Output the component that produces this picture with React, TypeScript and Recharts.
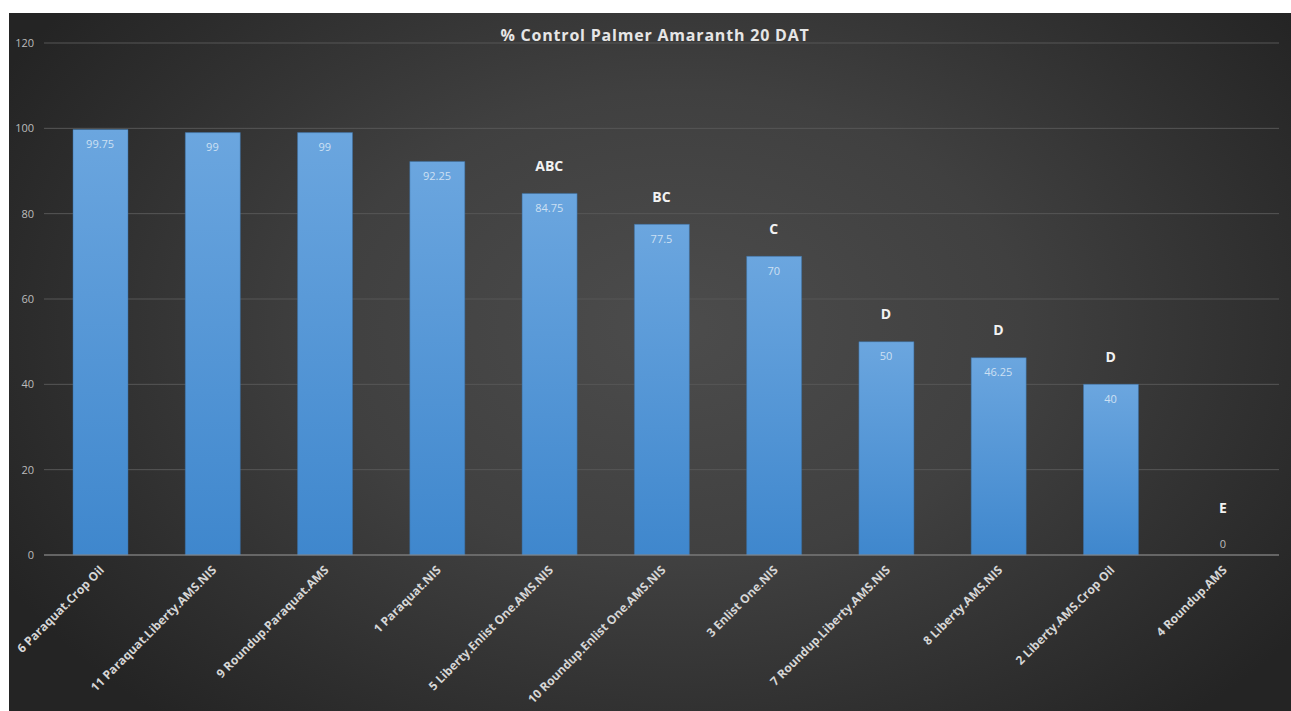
import React from "react";
import { ComposedChart, Bar, Line, XAxis, YAxis, CartesianGrid, LabelList } from "recharts";

const categories = [
  "6 Paraquat.Crop Oil",
  "11 Paraquat.Liberty.AMS.NIS",
  "9 Roundup.Paraquat.AMS",
  "1 Paraquat.NIS",
  "5 Liberty.Enlist One.AMS.NIS",
  "10 Roundup.Enlist One.AMS.NIS",
  "3 Enlist One.NIS",
  "7 Roundup.Liberty.AMS.NIS",
  "8 Liberty.AMS.NIS",
  "2 Liberty.AMS.Crop Oil",
  "4 Roundup.AMS",
];
const values = [99.75, 99, 99, 92.25, 84.75, 77.5, 70, 50, 46.25, 40, 0];
const letters = ["", "", "", "", "ABC", "BC", "C", "D", "D", "D", "E"];
const yTicks = [0, 20, 40, 60, 80, 100, 120];

const data = categories.map((name, i) => ({ name, value: values[i], letter: letters[i] }));

const FONT = "'Open Sans', 'Noto Sans', sans-serif";

const XTick = (props: any) => {
  const { x, y, payload } = props;
  return (
    <g transform={`translate(${x + 2},${y + 5})`}>
      <text
        x={0}
        y={0}
        dy={4}
        textAnchor="end"
        transform="rotate(-45)"
        fill="#d6d6d6"
        fontSize={12}
        fontWeight={700}
        fontFamily={FONT}
      >
        {payload.value}
      </text>
    </g>
  );
};

const ValueLabel = (props: any) => {
  const { x, y, value } = props;
  const ty = value > 0 ? y + 14 : y - 12;
  return (
    <text x={x} y={ty} textAnchor="middle" dominantBaseline="central" fill={value > 0 ? "#cde0f3" : "#bdbdbd"} fontSize={11} fontFamily={FONT}>
      {value}
    </text>
  );
};

const LetterLabel = (props: any) => {
  const { x, y, value, index } = props;
  if (!value) return null;
  const v = values[index];
  const ty = v > 0 ? y - 28 : y - 48;
  return (
    <text x={x} y={ty} textAnchor="middle" dominantBaseline="central" fill="#f2f2f2" fontSize={14} fontWeight={700} fontFamily={FONT}>
      {value}
    </text>
  );
};

export default function App() {
  return (
    <div style={{ position: "fixed", left: 0, top: 0, width: 1291, height: 711, background: "#ffffff", overflow: "hidden" }}>
      <div
        style={{
          position: "absolute",
          left: 9,
          top: 13,
          width: 1282,
          height: 698,
          background: "radial-gradient(ellipse 60% 75% at 52% 45%, #4c4c4c 0%, #404040 45%, #2e2e2e 80%, #242424 100%)",
        }}
      >
        <ComposedChart width={1282} height={698} data={data} margin={{ top: 30, right: 12, bottom: 0, left: 0 }} barSize={55}>
          <defs>
            <linearGradient id="barGrad" x1="0" y1="0" x2="0" y2="1">
              <stop offset="0%" stopColor="#6ba6df" />
              <stop offset="100%" stopColor="#3f87cd" />
            </linearGradient>
          </defs>
          <text x={646} y={22} textAnchor="middle" dominantBaseline="central" fill="#e6e6e6" fontSize={16} fontWeight={700} fontFamily={FONT} letterSpacing={0.8}>
            % Control Palmer Amaranth 20 DAT
          </text>
          <CartesianGrid vertical={false} stroke="#575757" strokeWidth={1} />
          <XAxis
            dataKey="name"
            interval={0}
            height={156}
            tick={<XTick />}
            tickLine={false}
            axisLine={{ stroke: "#8a8a8a", strokeWidth: 1 }}
          />
          <YAxis
            domain={[0, 120]}
            ticks={yTicks}
            width={35}
            tickLine={false}
            axisLine={false}
            tickMargin={4}
            tick={{ fill: "#bcbcbc", fontSize: 11, fontFamily: FONT }}
          />
          <Bar dataKey="value" fill="url(#barGrad)" stroke="#3a6fa3" strokeWidth={0.5} isAnimationActive={false} />
          <Line dataKey="value" stroke="none" dot={false} activeDot={false} isAnimationActive={false} legendType="none">
            <LabelList dataKey="value" content={<ValueLabel />} />
            <LabelList dataKey="letter" content={<LetterLabel />} />
          </Line>
        </ComposedChart>
      </div>
    </div>
  );
}
